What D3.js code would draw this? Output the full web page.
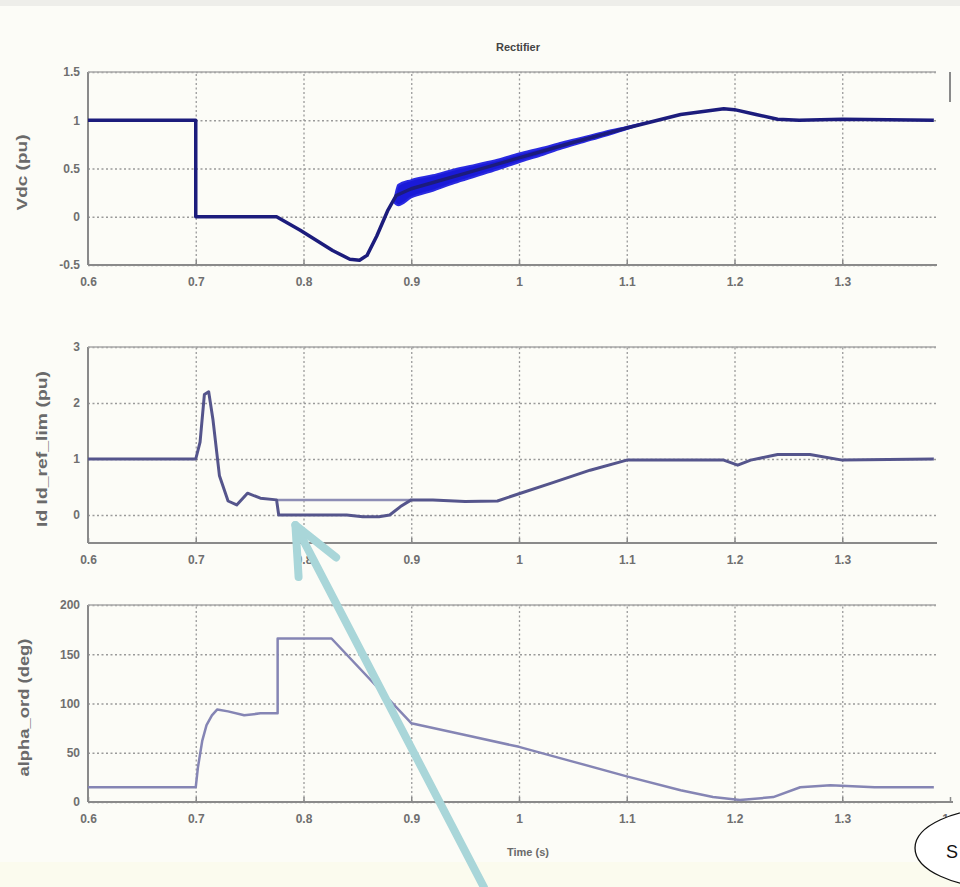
<!DOCTYPE html>
<html>
<head>
<meta charset="utf-8">
<script src="https://cdn.jsdelivr.net/npm/d3@7"></script>
<style>
  html, body { margin: 0; padding: 0; background: #fcfcf7; }
  svg { display: block; }
  text { font-family: "Liberation Sans", Arial, sans-serif; }
</style>
</head>
<body>
<svg id="chart" width="960" height="887"></svg>
<script>
// ---- time axis ----
const xTicks = [0.6, 0.7, 0.8, 0.9, 1.0, 1.1, 1.2, 1.3];
const xTickLabels = ["0.6", "0.7", "0.8", "0.9", "1", "1.1", "1.2", "1.3"];
const xTicksLast = [0.6, 0.7, 0.8, 0.9, 1.0, 1.1, 1.2, 1.3, 1.4];
const xTickLabelsLast = ["0.6", "0.7", "0.8", "0.9", "1", "1.1", "1.2", "1.3", "1.4"];

// ---- Vdc (pu) ----
const vdcTicks = [-0.5, 0, 0.5, 1, 1.5];
const vdcTickLabels = ["-0.5", "0", "0.5", "1", "1.5"];
const vdcT = [0.6, 0.7, 0.7, 0.775, 0.797, 0.827, 0.843, 0.852, 0.859, 0.868, 0.878, 0.886, 0.9, 0.95, 1.0, 1.05, 1.1, 1.15, 1.19, 1.2, 1.22, 1.24, 1.26, 1.3, 1.385];
const vdcV = [1.0, 1.0, 0.0, 0.0, -0.14, -0.35, -0.44, -0.45, -0.40, -0.20, 0.06, 0.22, 0.29, 0.45, 0.61, 0.77, 0.92, 1.06, 1.12, 1.11, 1.06, 1.01, 1.0, 1.01, 1.0];
// ripple envelope around Vdc during recovery
const vdcBandT  = [0.884, 0.888, 0.9, 0.92, 0.94, 0.96, 0.98, 1.0, 1.02, 1.04, 1.06, 1.08, 1.1, 1.12];
const vdcBandHi = [0.15, 0.33, 0.38, 0.43, 0.49, 0.54, 0.59, 0.655, 0.71, 0.77, 0.825, 0.88, 0.93, 0.98];
const vdcBandLo = [0.15, 0.12, 0.20, 0.27, 0.35, 0.42, 0.49, 0.565, 0.635, 0.71, 0.775, 0.84, 0.91, 0.98];

// ---- Id and Id_ref_lim (pu) ----
const idTicks = [0, 1, 2, 3];
const idTickLabels = ["0", "1", "2", "3"];
const idT = [0.6, 0.7, 0.704, 0.708, 0.712, 0.716, 0.722, 0.73, 0.738, 0.748, 0.76, 0.775, 0.777, 0.8, 0.84, 0.855, 0.87, 0.88, 0.89, 0.9, 0.92, 0.95, 0.98, 1.0, 1.03, 1.066, 1.1, 1.15, 1.19, 1.203, 1.215, 1.24, 1.27, 1.3, 1.385];
const idV = [1.0, 1.0, 1.3, 2.15, 2.2, 1.7, 0.7, 0.25, 0.18, 0.39, 0.30, 0.27, 0.0, 0.0, 0.0, -0.03, -0.03, 0.0, 0.15, 0.27, 0.27, 0.24, 0.25, 0.38, 0.57, 0.80, 0.98, 0.98, 0.98, 0.89, 0.98, 1.08, 1.08, 0.98, 1.0];
const idRefT = [0.775, 0.82, 0.86, 0.9];
const idRefV = [0.27, 0.27, 0.27, 0.27];

// ---- alpha_ord (deg) ----
const alphaTicks = [0, 50, 100, 150, 200];
const alphaTickLabels = ["0", "50", "100", "150", "200"];
const alphaT = [0.6, 0.7, 0.702, 0.706, 0.71, 0.715, 0.72, 0.73, 0.745, 0.76, 0.776, 0.776, 0.826, 0.9, 0.95, 1.0, 1.05, 1.1, 1.15, 1.18, 1.205, 1.236, 1.261, 1.289, 1.33, 1.385];
const alphaV = [15, 15, 35, 62, 78, 88, 94, 92, 88, 90, 90, 166, 166, 80, 68, 56, 41, 26, 12, 5, 2, 5, 15, 17, 15, 15];

// ---- texts ----
const titleText = "Rectifier";
const xLabelText = "Time (s)";
const yLabels = ["Vdc (pu)", "Id Id_ref_lim (pu)", "alpha_ord (deg)"];

const svg = d3.select("#chart");
const W = 960, H = 887;
svg.append("rect").attr("width", W).attr("height", H).attr("fill", "#fcfcf7");
svg.append("rect").attr("x", 0).attr("y", 0).attr("width", W).attr("height", 6).attr("fill", "#eeeeea");
svg.append("rect").attr("x", 0).attr("y", 862).attr("width", W).attr("height", 25).attr("fill", "#fbfbee");

const x = d3.scaleLinear().domain([0.6, 1.4]).range([88, 950]);
const gridRight = 936;

const panels = [
  { y: d3.scaleLinear().domain([-0.5, 1.5]).range([265, 72]), ticks: vdcTicks, labels: vdcTickLabels, xt: xTicks, xl: xTickLabels, axisEnd: 937, lbl: yLabels[0], lblX: 27, lblLen: 76 },
  { y: d3.scaleLinear().domain([-0.5, 3]).range([543, 347]), ticks: idTicks, labels: idTickLabels, xt: xTicks, xl: xTickLabels, axisEnd: 937, lbl: yLabels[1], lblX: 47, lblLen: 156 },
  { y: d3.scaleLinear().domain([0, 200]).range([802, 605]), ticks: alphaTicks, labels: alphaTickLabels, xt: xTicksLast, xl: xTickLabelsLast, axisEnd: 953, lbl: yLabels[2], lblX: 29, lblLen: 138 }
];

const gridColor = "#9a9a9a";
const axisColor = "#8a8a8a";
const tickTextColor = "#6f6f6f";

panels.forEach(p => {
  const y = p.y;
  const y0 = y.range()[0], y1 = y.range()[1];
  const g = svg.append("g");

  // horizontal grid
  g.append("g")
    .attr("transform", `translate(${x(0.6)},0)`)
    .call(d3.axisLeft(y).tickValues(p.ticks).tickSize(-(gridRight - x(0.6))).tickFormat(""))
    .call(a => a.select(".domain").remove())
    .call(a => a.selectAll("line").attr("stroke", gridColor).attr("stroke-width", 1.3).attr("stroke-dasharray", "2,2.5"));

  // vertical grid
  g.append("g")
    .attr("transform", `translate(0,${y0})`)
    .call(d3.axisBottom(x).tickValues(p.xt.filter(t => t > 0.6 && t < 1.35)).tickSize(-(y0 - y1)).tickFormat(""))
    .call(a => a.select(".domain").remove())
    .call(a => a.selectAll("line").attr("stroke", gridColor).attr("stroke-width", 1.3).attr("stroke-dasharray", "2,2.5"));

  // frame: left and bottom solid
  g.append("line").attr("x1", x(0.6)).attr("x2", x(0.6)).attr("y1", y1).attr("y2", y0)
    .attr("stroke", axisColor).attr("stroke-width", 2);
  g.append("line").attr("x1", x(0.6)).attr("x2", p.axisEnd).attr("y1", y0).attr("y2", y0)
    .attr("stroke", axisColor).attr("stroke-width", 2);
  g.append("line").attr("x1", x(0.6)).attr("x2", gridRight).attr("y1", y1).attr("y2", y1)
    .attr("stroke", "#a8a8a8").attr("stroke-width", 1.5);

  // tick labels (y)
  const ya = g.append("g")
    .attr("transform", `translate(${x(0.6)},0)`)
    .call(d3.axisLeft(y).tickValues(p.ticks).tickSize(0).tickPadding(8)
      .tickFormat((d, i) => p.labels[i]));
  ya.select(".domain").remove();
  ya.selectAll("text").attr("fill", tickTextColor).attr("font-size", 12).attr("font-weight", "bold");

  // tick labels (x) with short inward ticks
  const xa = g.append("g")
    .attr("transform", `translate(0,${y0})`)
    .call(d3.axisBottom(x).tickValues(p.xt).tickSizeInner(-5).tickSizeOuter(0).tickPadding(12)
      .tickFormat((d, i) => p.xl[i]));
  xa.select(".domain").remove();
  xa.selectAll("line").attr("stroke", axisColor).attr("stroke-width", 1.5);
  xa.selectAll("text").attr("fill", tickTextColor).attr("font-size", 12).attr("font-weight", "bold");

  // y label
  const cy = (y0 + y1) / 2 + 4;
  g.append("text")
    .attr("transform", `translate(${p.lblX},${cy}) rotate(-90)`)
    .attr("text-anchor", "middle")
    .attr("fill", "#6a6a6a")
    .attr("font-size", 14)
    .attr("font-weight", "bold")
    .attr("textLength", p.lblLen)
    .attr("lengthAdjust", "spacingAndGlyphs")
    .text(p.lbl);
});

// right frame stub of the top axes
svg.append("line").attr("x1", 950).attr("x2", 950).attr("y1", 72).attr("y2", 102)
  .attr("stroke", axisColor).attr("stroke-width", 2);

// ---- series ----
const pV = panels[0].y, pI = panels[1].y, pA = panels[2].y;
const lineOf = (ys) => d3.line().x(d => x(d[0])).y(d => ys(d[1]));
const zip = (a, b) => a.map((t, i) => [t, b[i]]);

// Vdc ripple band
svg.append("path")
  .datum(vdcBandT.map((t, i) => [t, vdcBandLo[i], vdcBandHi[i]]))
  .attr("d", d3.area().x(d => x(d[0])).y0(d => pV(d[1])).y1(d => pV(d[2])).curve(d3.curveMonotoneX))
  .attr("fill", "#1a1ad8").attr("stroke", "#2a2ae0").attr("stroke-width", 2).attr("stroke-linejoin", "round");

svg.append("path")
  .datum(zip(vdcT, vdcV))
  .attr("d", lineOf(pV))
  .attr("fill", "none").attr("stroke", "#1c1c7c").attr("stroke-width", 3.5).attr("stroke-linejoin", "round");

// Id_ref_lim and Id
svg.append("path")
  .datum(zip(idRefT, idRefV))
  .attr("d", lineOf(pI))
  .attr("fill", "none").attr("stroke", "#8d8db5").attr("stroke-width", 2.5);

svg.append("path")
  .datum(zip(idT, idV))
  .attr("d", lineOf(pI))
  .attr("fill", "none").attr("stroke", "#55558c").attr("stroke-width", 3).attr("stroke-linejoin", "round");

// alpha_ord
svg.append("path")
  .datum(zip(alphaT, alphaV))
  .attr("d", lineOf(pA))
  .attr("fill", "none").attr("stroke", "#8585b4").attr("stroke-width", 2.5).attr("stroke-linejoin", "round");

// ---- titles ----
svg.append("text").attr("x", 518).attr("y", 51).attr("text-anchor", "middle")
  .attr("font-size", 11).attr("font-weight", "bold").attr("fill", "#444").text(titleText);
svg.append("text").attr("x", 528).attr("y", 856).attr("text-anchor", "middle")
  .attr("font-size", 11).attr("font-weight", "bold").attr("fill", "#6a6a6a").text(xLabelText);

// ---- callout arrow pointing at the Id plateau ----
const arrowTip = [0.7925, -0.18];
const arrowTail = [0.9675, -6.65];
const tip = [x(arrowTip[0]), pI(arrowTip[1])];
const tail = [x(arrowTail[0]), pI(arrowTail[1])];
const ang = Math.atan2(tail[1] - tip[1], tail[0] - tip[0]);
const headLen = 52, headSpread = 24 * Math.PI / 180;
const arm = s => [tip[0] + headLen * Math.cos(ang + s), tip[1] + headLen * Math.sin(ang + s)];
const arrowCol = "#a9d6d9";
svg.append("line").attr("x1", tail[0]).attr("y1", tail[1]).attr("x2", tip[0]).attr("y2", tip[1])
  .attr("stroke", arrowCol).attr("stroke-width", 8).attr("stroke-linecap", "round");
svg.append("path")
  .attr("d", d3.line()([arm(headSpread), tip, arm(-headSpread)]))
  .attr("fill", "none").attr("stroke", arrowCol).attr("stroke-width", 8)
  .attr("stroke-linecap", "round").attr("stroke-linejoin", "round");

// ---- circled note at the lower right ----
svg.append("ellipse").attr("cx", 1002).attr("cy", 848).attr("rx", 87).attr("ry", 40)
  .attr("fill", "#ffffff").attr("stroke", "#111").attr("stroke-width", 1.3);
svg.append("text").attr("x", 946).attr("y", 858).attr("font-size", 18).attr("fill", "#111").text("S");
</script>
</body>
</html>
